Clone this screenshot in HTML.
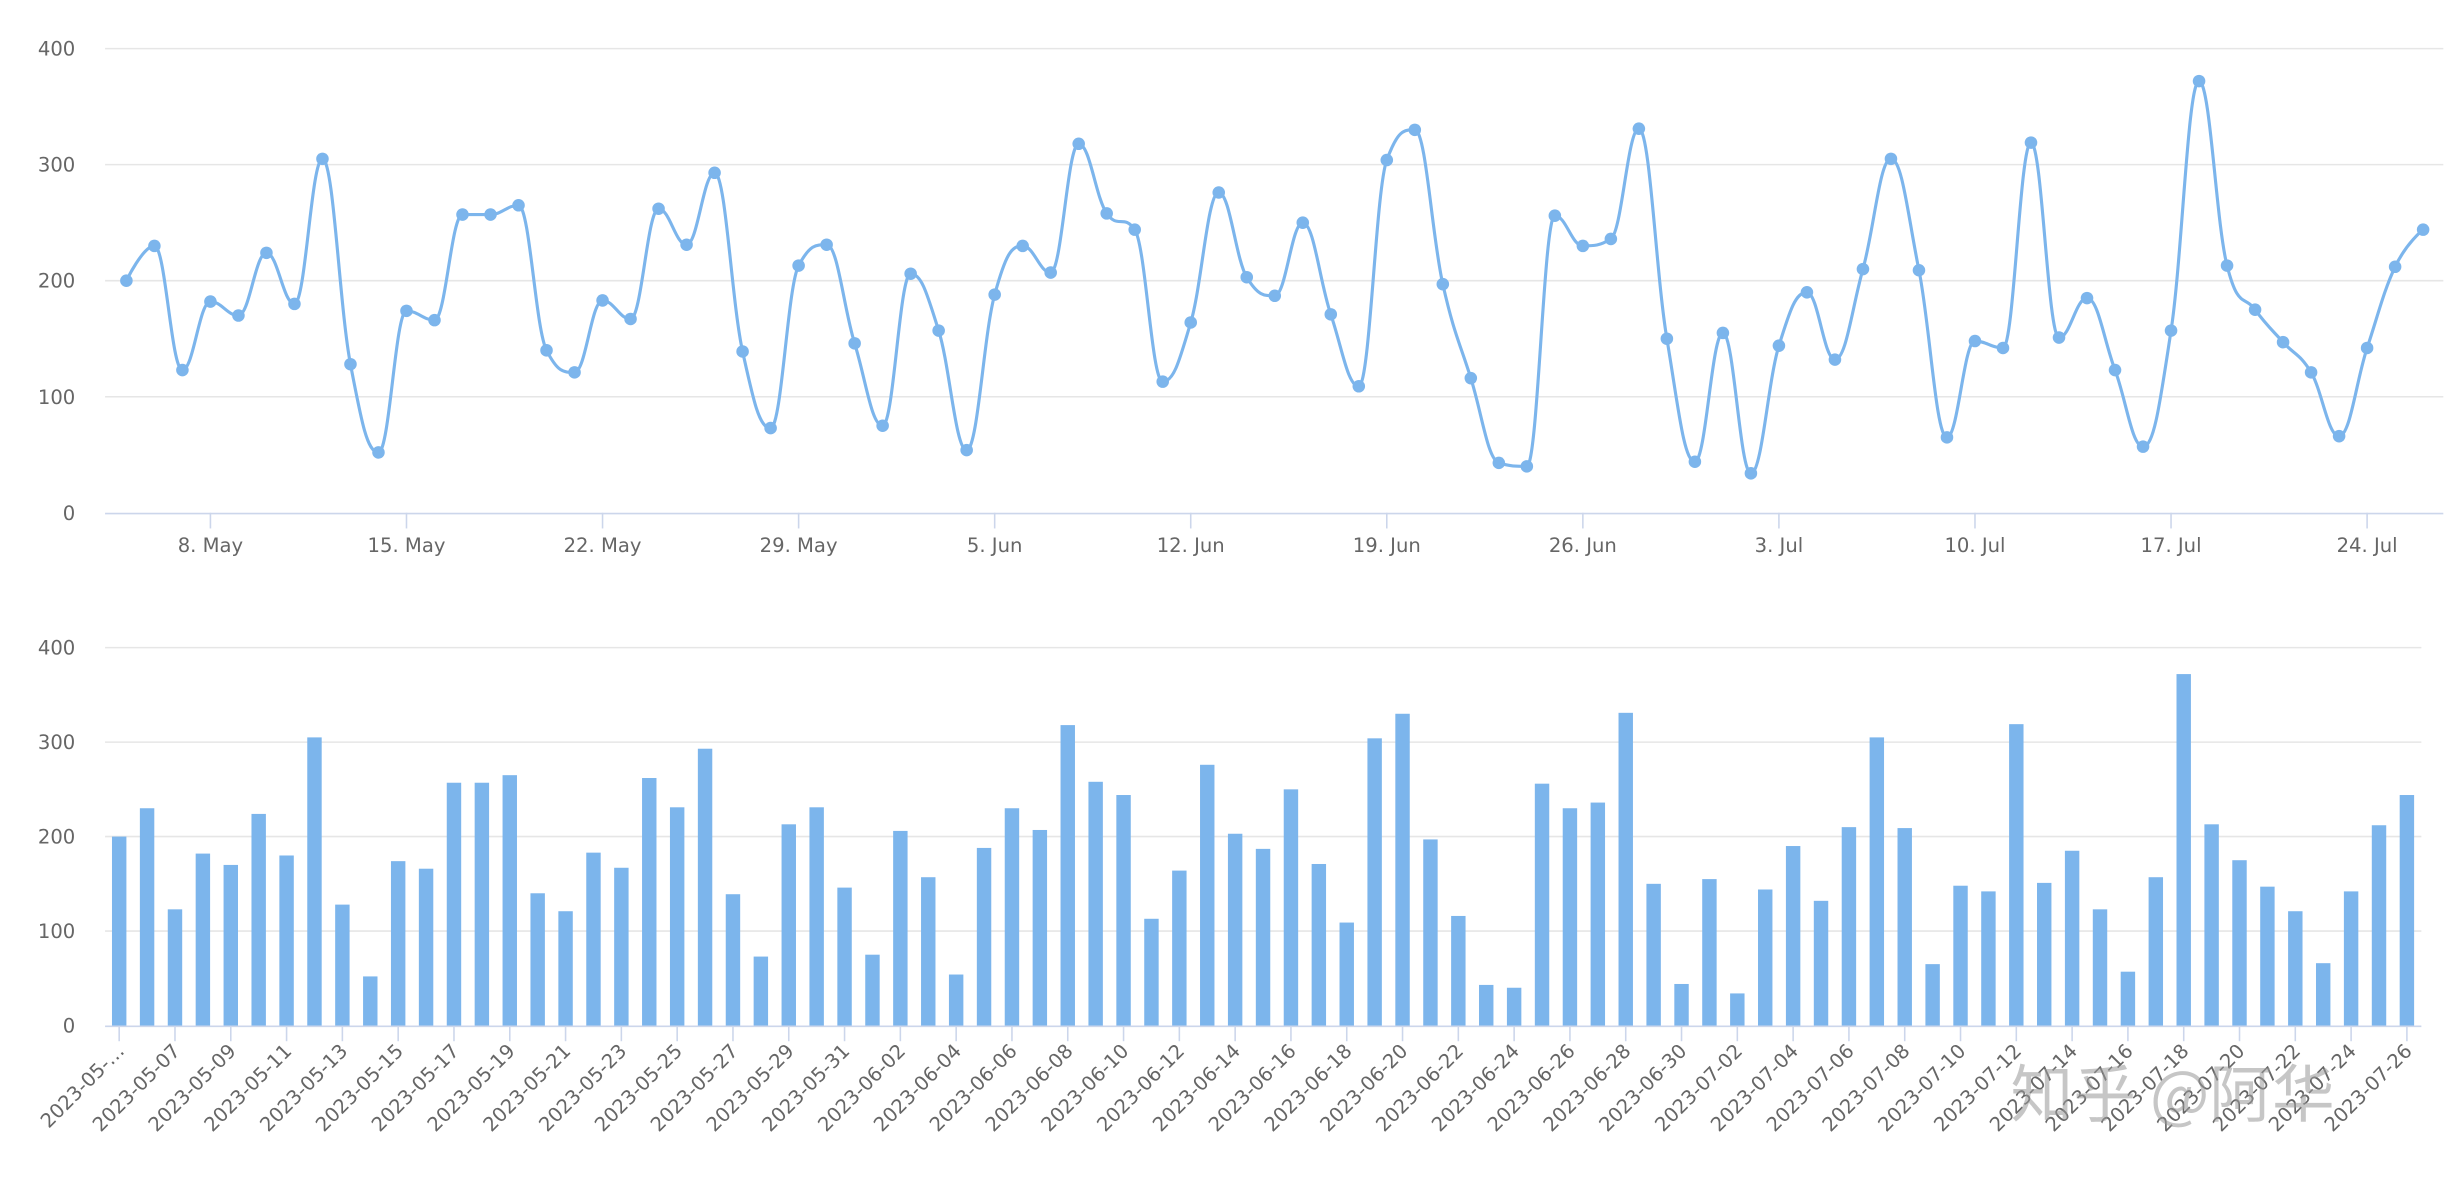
<!DOCTYPE html>
<html><head><meta charset="utf-8"><style>
html,body{margin:0;padding:0;background:#fff;width:2459px;height:1188px;overflow:hidden}
svg{display:block}
text{font-family:"DejaVu Sans","Liberation Sans",sans-serif;fill:#666;font-size:12.5px}
</style></head><body>
<svg id="s" width="2459" height="1188" viewBox="0 0 1568 757.6" preserveAspectRatio="none" xmlns="http://www.w3.org/2000/svg"></svg>
<script>
const v=[200,230,123,182,170,224,180,305,128,52,174,166,257,257,265,140,121,183,167,262,231,293,139,73,213,231,146,75,206,157,54,188,230,207,318,258,244,113,164,276,203,187,250,171,109,304,330,197,116,43,40,256,230,236,331,150,44,155,34,144,190,132,210,305,209,65,148,142,319,151,185,123,57,157,372,213,175,147,121,66,142,212,244];
let h='';
const ly=x=>327-x*0.74;
for(const g of [100,200,300,400])h+=`<line x1="67" x2="1558" y1="${ly(g)}" y2="${ly(g)}" stroke="#e6e6e6"/>`;
h+=`<line x1="67" x2="1558" y1="327.5" y2="327.5" stroke="#ccd6eb"/>`;
for(const g of [0,100,200,300,400])h+=`<text x="48" y="${ly(g)+4.5}" text-anchor="end">${g}</text>`;
const lx=i=>80.6+i*17.86;
const labs=["8. May","15. May","22. May","29. May","5. Jun","12. Jun","19. Jun","26. Jun","3. Jul","10. Jul","17. Jul","24. Jul"];
labs.forEach((t,k)=>{const x=lx(3+7*k);h+=`<line x1="${x}" x2="${x}" y1="327" y2="337" stroke="#ccd6eb"/><text x="${x}" y="352" text-anchor="middle">${t}</text>`;});
const P=v.map((y,i)=>[lx(i),ly(y)]);
const n=P.length;const L=[],R=[];
for(let i=0;i<n;i++){
 const [x,y]=P[i];
 if(i==0||i==n-1){L[i]=[x,y];R[i]=[x,y];continue;}
 const [px,py]=P[i-1],[nx,ny]=P[i+1];
 let lcx=(1.5*x+px)/2.5,lcy=(1.5*y+py)/2.5,rcx=(1.5*x+nx)/2.5,rcy=(1.5*y+ny)/2.5;
 const c=((rcy-lcy)*(rcx-x))/(rcx-lcx)+y-rcy;lcy+=c;rcy+=c;
 if(lcy>py&&lcy>y){lcy=Math.max(py,y);rcy=2*y-lcy;}else if(lcy<py&&lcy<y){lcy=Math.min(py,y);rcy=2*y-lcy;}
 if(rcy>ny&&rcy>y){rcy=Math.max(ny,y);lcy=2*y-rcy;}else if(rcy<ny&&rcy<y){rcy=Math.min(ny,y);lcy=2*y-rcy;}
 L[i]=[lcx,lcy];R[i]=[rcx,rcy];
}
let d=`M${P[0][0]},${P[0][1]}`;
for(let i=1;i<n;i++)d+=` C${R[i-1][0]},${R[i-1][1]} ${L[i][0]},${L[i][1]} ${P[i][0]},${P[i][1]}`;
h+=`<path d="${d}" fill="none" stroke="#7cb5ec" stroke-width="2"/>`;
P.forEach(p=>h+=`<circle cx="${p[0]}" cy="${p[1]}" r="4" fill="#7cb5ec"/>`);
const by=x=>654-x*0.6025;
for(const g of [100,200,300,400])h+=`<line x1="67" x2="1544" y1="${by(g)}" y2="${by(g)}" stroke="#e6e6e6"/>`;
for(const g of [0,100,200,300,400])h+=`<text x="48" y="${by(g)+4.5}" text-anchor="end">${g}</text>`;
const bx=i=>76+i*17.79;
v.forEach((y,i)=>{h+=`<rect x="${bx(i)-4.6}" y="${by(y)}" width="9.2" height="${y*0.6025}" fill="#7cb5ec"/>`;});
h+=`<line x1="67" x2="1544" y1="654.5" y2="654.5" stroke="#ccd6eb"/>`;
const start=new Date(Date.UTC(2023,4,5));
for(let i=0;i<83;i+=2){const x=bx(i);const dt=new Date(start.getTime()+i*864e5);let s=dt.toISOString().slice(0,10);if(i==0)s="2023-05-…";
h+=`<line x1="${x}" x2="${x}" y1="654" y2="664" stroke="#ccd6eb"/><text transform="translate(${x+4},${671}) rotate(-45)" text-anchor="end">${s}</text>`;}
h+=`<text x="1282" y="712" style="font-family:'Noto Sans CJK SC',sans-serif;font-size:40px;fill:#999;opacity:0.55">知乎 @阿华</text>`;
document.getElementById('s').innerHTML=h;
</script>
</body></html>
